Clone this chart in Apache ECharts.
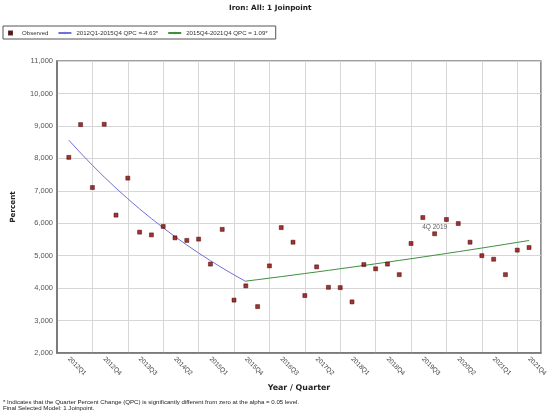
<!DOCTYPE html>
<html>
<head>
<meta charset="utf-8">
<script src="https://cdn.jsdelivr.net/npm/echarts@6/dist/echarts.min.js"></script>
<style>html,body{margin:0;padding:0;background:#fff}#c{width:550px;height:416px}</style>
</head>
<body>
<div id="c"></div>
<script>
const quarters = ['2012Q1','2012Q2','2012Q3','2012Q4','2013Q1','2013Q2','2013Q3','2013Q4',
  '2014Q1','2014Q2','2014Q3','2014Q4','2015Q1','2015Q2','2015Q3','2015Q4',
  '2016Q1','2016Q2','2016Q3','2016Q4','2017Q1','2017Q2','2017Q3','2017Q4',
  '2018Q1','2018Q2','2018Q3','2018Q4','2019Q1','2019Q2','2019Q3','2019Q4',
  '2020Q1','2020Q2','2020Q3','2020Q4','2021Q1','2021Q2','2021Q3','2021Q4'];
const observed = [8030, 9040, 7100, 9050, 6250, 7390, 5725, 5640, 5900, 5550,
  5470, 5510, 4740, 5810, 3630, 4070, 3430, 4685, 5865, 5415,
  3770, 4655, 4025, 4015, 3575, 4725, 4595, 4740, 4415, 5375,
  6175, 5675, 6115, 5990, 5415, 5000, 4890, 4415, 5170, 5250];
// fitted segment 1: 2012Q1-2015Q4
const seg1Quarters = quarters.slice(0, 16);
const seg1Fit = [8560, 8164, 7786, 7425, 7081, 6753, 6441, 6143, 5858, 5587, 5328, 5082, 4846, 4622, 4408, 4204];
// fitted segment 2: 2015Q4-2021Q4
const seg2Quarters = quarters.slice(15);
const seg2Fit = [4215, 4261, 4307, 4354, 4402, 4450, 4498, 4547, 4597, 4647, 4698, 4749, 4801,
  4853, 4906, 4959, 5013, 5068, 5123, 5179, 5235, 5293, 5350, 5409, 5467];
const annotationQuarter = '2019Q4';
const annotationText = '4Q 2019';
const seg1Name = '2012Q1-2015Q4 QPC =-4.63*';
const seg2Name = '2015Q4-2021Q4 QPC = 1.09*';
const yTicks = {min: 2000, max: 11000, interval: 1000};

const axisCats = [''].concat(quarters, [' ']);
const chart = echarts.init(document.getElementById('c'), null, {renderer: 'canvas'});
const obsData = quarters.map((q, i) => {
  const d = {value: [q, observed[i]]};
  if (q === annotationQuarter) {
    d.label = {show: true, position: 'top', distance: 1, formatter: annotationText,
      fontSize: 6.5, color: '#333', fontFamily: 'Liberation Sans'};
  }
  return d;
});
chart.setOption({
  animation: false,
  backgroundColor: '#fff',
  title: {text: 'Iron: All: 1 Joinpoint', left: 229, top: 5, padding: 0,
    textStyle: {fontSize: 7.3, fontWeight: 'bold', color: '#222', fontFamily: 'DejaVu Sans'}},
  legend: {
    left: 3, top: 26, orient: 'horizontal',
    borderColor: '#555', borderWidth: 1, borderRadius: 0,
    padding: [4, 8, 3, 5], itemGap: 9, itemWidth: 13, itemHeight: 3,
    symbolKeepAspect: true,
    textStyle: {fontSize: 6.1, color: '#333', fontFamily: 'Liberation Sans'},
    data: [{name: 'Observed', icon: 'path://M0,0L4,0L4,4L0,4Z'}, seg1Name, seg2Name]
  },
  grid: {left: 57, right: 8, top: 61, bottom: 63, show: true, borderColor: '#808080', borderWidth: 1.5, containLabel: false},
  xAxis: {
    type: 'category', data: axisCats, boundaryGap: false,
    name: 'Year / Quarter', nameLocation: 'middle', nameGap: 28,
    nameTextStyle: {fontSize: 7.9, fontWeight: 'bold', color: '#222', fontFamily: 'DejaVu Sans'},
    axisLine: {lineStyle: {color: '#707070', width: 1.5}},
    axisTick: {show: false},
    axisLabel: {interval: (i) => i >= 1 && (i - 1) % 3 === 0, rotate: -45, fontSize: 6.5, color: '#444',
      margin: 5, fontFamily: 'Liberation Sans'},
    splitLine: {show: true, interval: (i) => i % 3 === 0 && i > 0, lineStyle: {color: '#d6d6d6', width: 1}}
  },
  yAxis: {
    type: 'value', min: yTicks.min, max: yTicks.max, interval: yTicks.interval,
    name: 'Percent', nameLocation: 'middle', nameGap: 40, nameRotate: 90,
    nameTextStyle: {fontSize: 7.2, fontWeight: 'bold', color: '#222', fontFamily: 'DejaVu Sans'},
    axisLine: {show: true, lineStyle: {color: '#707070', width: 1.5}},
    axisTick: {show: false},
    axisLabel: {fontSize: 7.5, color: '#555', margin: 4, fontFamily: 'Liberation Sans',
      formatter: (v) => v.toLocaleString('en-US')},
    splitLine: {show: true, lineStyle: {color: '#d6d6d6', width: 1}}
  },
  series: [
    {name: 'Observed', type: 'scatter', symbol: 'rect', symbolSize: 4,
      itemStyle: {color: '#8b0000', borderColor: '#3a0000', borderWidth: 0.6},
      data: obsData, z: 5},
    {name: seg1Name, type: 'line', symbol: 'none', smooth: false,
      lineStyle: {color: '#7070d8', width: 1}, itemStyle: {color: '#7070d8'},
      data: seg1Quarters.map((q, i) => [q, seg1Fit[i]])},
    {name: seg2Name, type: 'line', symbol: 'none', smooth: false,
      lineStyle: {color: '#3f8f3f', width: 1}, itemStyle: {color: '#3f8f3f'},
      data: seg2Quarters.map((q, i) => [q, seg2Fit[i]])}
  ],
  graphic: [
    {type: 'text', left: 3, top: 399, style: {text: '* Indicates that the Quarter Percent Change (QPC) is significantly different from zero at the alpha = 0.05 level.',
      fontSize: 6.1, fill: '#222', fontFamily: 'Liberation Sans'}},
    {type: 'text', left: 3, top: 405.5, style: {text: 'Final Selected Model: 1 Joinpoint.',
      fontSize: 6.1, fill: '#222', fontFamily: 'Liberation Sans'}}
  ]
});
</script>
</body>
</html>
